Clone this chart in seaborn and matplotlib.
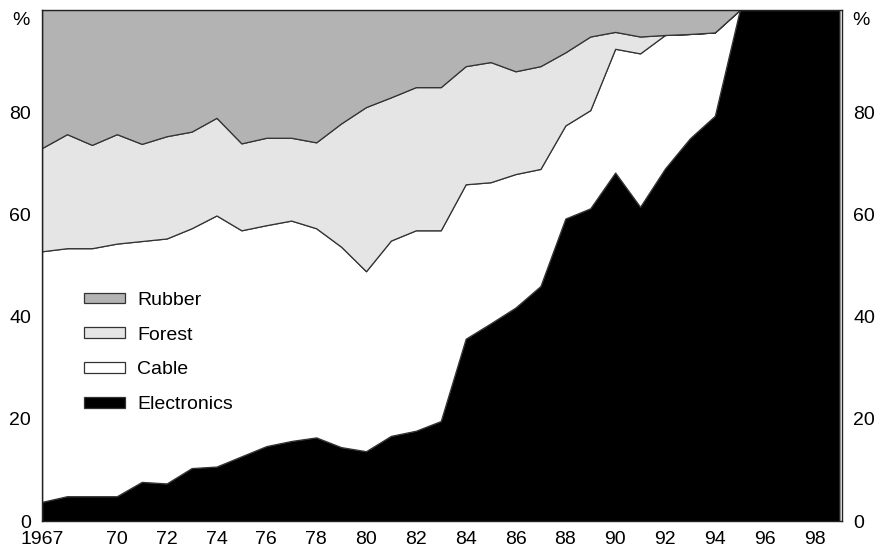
import matplotlib
matplotlib.use("Agg")
import matplotlib.pyplot as plt
import numpy as np
import seaborn as sns
from matplotlib.patches import Patch

years = list(range(1967, 2000))

# cumulative boundaries (percent of total)
electronics_top = [3.8, 4.9, 4.9, 4.9, 7.7, 7.4, 10.4, 10.7, 12.7, 14.7, 15.7,
                   16.4, 14.5, 13.7, 16.7, 17.7, 19.6, 35.7, 38.7, 41.8, 46.0,
                   59.2, 61.2, 68.2, 61.5, 69.0, 74.9, 79.3, 100, 100, 100, 100, 100]
cable_top = [52.8, 53.4, 53.4, 54.3, 54.8, 55.3, 57.3, 59.8, 56.9, 57.9, 58.8,
             57.3, 53.7, 48.9, 54.9, 56.9, 56.9, 65.9, 66.3, 67.9, 68.9,
             77.4, 80.4, 92.4, 91.5, 95.1, 95.3, 95.6, 100, 100, 100, 100, 100]
forest_top = [73.0, 75.7, 73.6, 75.7, 73.8, 75.3, 76.2, 78.9, 73.9, 75.0, 75.0,
              74.1, 77.8, 81.0, 82.9, 84.9, 84.9, 89.0, 89.8, 88.0, 89.0,
              91.7, 94.8, 95.7, 94.8, 95.1, 95.3, 95.6, 100, 100, 100, 100, 100]

electronics = np.array(electronics_top)
cable = np.array(cable_top) - electronics
forest = np.array(forest_top) - np.array(cable_top)
rubber = 100 - np.array(forest_top)

labels = ["Electronics", "Cable", "Forest", "Rubber"]
colors = ["#000000", "#ffffff", "#e5e5e5", "#b3b3b3"]

xtick_pos = [1967] + list(range(1970, 1999, 2))
xtick_labels = ["1967"] + [f"{y % 100:02d}" for y in range(1970, 1999, 2)]
ytick_pos = [0, 20, 40, 60, 80]

sns.set_theme(style="white")
plt.rcParams["font.family"] = ["Liberation Sans", "DejaVu Sans"]
plt.rcParams["text.color"] = "black"

fs = 14

fig = plt.figure(figsize=(8.77, 5.51), dpi=100)
ax = fig.add_axes([0.048, 0.054, 0.912, 0.928])

ax.stackplot(years, electronics, cable, forest, rubber,
             colors=colors, edgecolor="#333333", linewidth=0.9)

ax.set_xlim(1967, 1999.1)
ax.set_ylim(0, 100)

ax.set_xticks(xtick_pos)
ax.set_xticklabels(xtick_labels)
ax.set_yticks(ytick_pos)
ax.tick_params(axis="both", length=0, labelsize=fs, colors="black")
ax.tick_params(axis="y", pad=8, left=True, right=True, labelleft=True, labelright=True)
ax.tick_params(axis="x", pad=7)

for side in ["left", "right", "top", "bottom"]:
    ax.spines[side].set_color("#222222")
    ax.spines[side].set_linewidth(1.0)

ax.text(-0.016, 0.995, "%", transform=ax.transAxes, ha="right", va="top",
        fontsize=fs, color="black")
ax.text(1.013, 0.995, "%", transform=ax.transAxes, ha="left", va="top",
        fontsize=fs, color="black")

handles = [Patch(facecolor=c, edgecolor="#333333", linewidth=0.9)
           for c in colors[::-1]]
ax.legend(handles, labels[::-1], loc="center left", bbox_to_anchor=(0.03, 0.33),
          frameon=False, fontsize=fs, handlelength=2.15, handleheight=0.45,
          labelspacing=0.92, handletextpad=0.6, labelcolor="black")

fig.savefig("out.png", dpi=100)
